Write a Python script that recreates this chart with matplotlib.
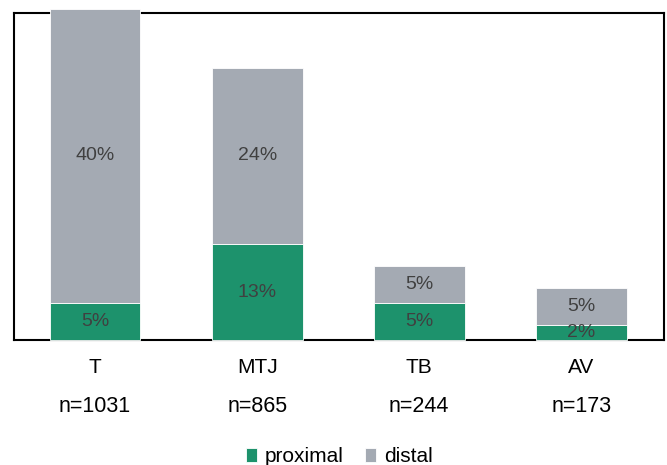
import matplotlib
matplotlib.use("Agg")
import matplotlib.pyplot as plt
import numpy as np

plt.rcParams['font.family'] = ['Liberation Sans', 'DejaVu Sans']

categories = ["T", "MTJ", "TB", "AV"]
counts = ["n=1031", "n=865", "n=244", "n=173"]
proximal = [5, 13, 5, 2]
distal = [40, 24, 5, 5]

green = "#1d926c"
grey = "#a4aab3"
label_color = "#404040"

fig = plt.figure(figsize=(6.67, 4.65), dpi=100)
ax = fig.add_axes([0.021, 0.2688, 0.9745, 0.7032])

x = np.arange(len(categories))
width = 0.56
bars_p = ax.bar(x, proximal, width, color=green, edgecolor="white", linewidth=0.6,
                label="proximal", clip_on=False, zorder=2)
bars_d = ax.bar(x, distal, width, bottom=proximal, color=grey, edgecolor="white",
                linewidth=0.6, label="distal", clip_on=False, zorder=2)

for xi, p, d in zip(x, proximal, distal):
    ax.text(xi, p / 2, f"{p}%", ha="center", va="center", fontsize=14,
            color=label_color, zorder=3)
    ax.text(xi, p + d / 2, f"{d}%", ha="center", va="center", fontsize=14,
            color=label_color, zorder=3)

ax.set_xlim(-0.5, 3.51)
ax.set_ylim(0, 44.4)
ax.set_yticks([])
ax.set_xticks(x)
ax.set_xticklabels([])
ax.tick_params(axis="x", length=0)

# category names and sample sizes below each bar
for xi, c, n in zip(x, categories, counts):
    ax.annotate(c, xy=(xi, 0), xycoords=("data", "axes fraction"),
                xytext=(0, -20), textcoords="offset points",
                ha="center", va="center", fontsize=15)
    ax.annotate(n, xy=(xi, 0), xycoords=("data", "axes fraction"),
                xytext=(0, -48), textcoords="offset points",
                ha="center", va="center", fontsize=15.5)

for s in ax.spines.values():
    s.set_linewidth(1.5)
    s.set_color("black")
    s.set_zorder(1)

ax.legend(handles=[bars_p, bars_d], labels=["proximal", "distal"], ncol=2,
          loc="center", bbox_to_anchor=(0.5, -0.356), frameon=False,
          fontsize=15, handlelength=0.55, handleheight=0.65, handletextpad=0.35,
          columnspacing=1.05)

fig.savefig("out.png", dpi=100)
